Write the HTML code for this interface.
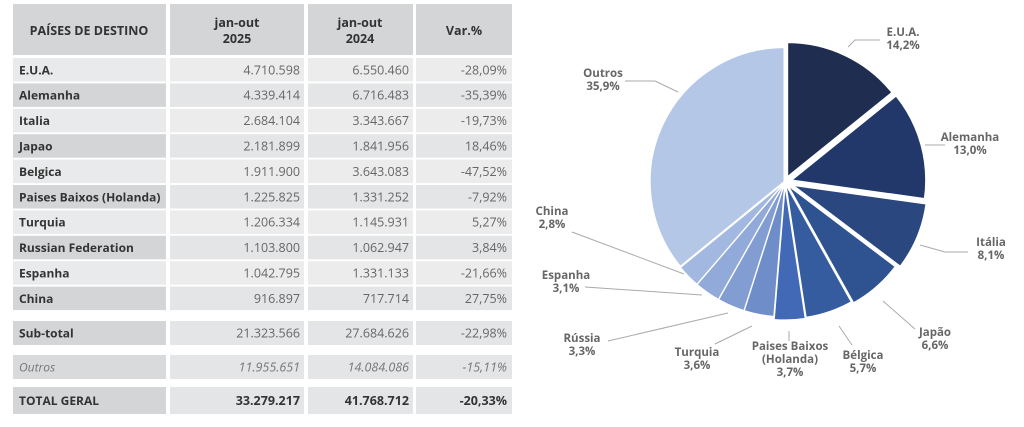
<!DOCTYPE html>
<html><head><meta charset="utf-8"><style>
html,body{margin:0;padding:0;background:#fff;width:1024px;height:427px;overflow:hidden}
svg{display:block;font-family:"Open Sans","Liberation Sans",sans-serif}
</style></head><body>
<svg id="s" width="1024" height="427" viewBox="0 0 1024 427" xmlns="http://www.w3.org/2000/svg">
<g id="tbl"></g><g id="pie"></g>
</svg>
<script>
const NS="http://www.w3.org/2000/svg";
function el(p,t,a,txt){const e=document.createElementNS(NS,t);for(const k in a)e.setAttribute(k,a[k]);if(txt!==undefined)e.textContent=txt;p.appendChild(e);return e;}
const T=document.getElementById('tbl');
const cols=[[13,166],[170,304],[308,413],[416,512]];
cols.forEach(c=>el(T,'rect',{x:c[0],y:4,width:c[1]-c[0],height:51,fill:'#d4d5d6'}));
el(T,'text',{x:89,y:35,'text-anchor':'middle','font-size':12.5,'font-weight':'bold',fill:'#333'},'PAÍSES DE DESTINO');
[[237,'2025'],[360,'2024']].forEach(a=>{el(T,'text',{x:a[0],y:27,'text-anchor':'middle','font-size':12.5,'font-weight':'bold',fill:'#333'},'jan-out');el(T,'text',{x:a[0],y:43,'text-anchor':'middle','font-size':12.5,'font-weight':'bold',fill:'#333'},a[1]);});
el(T,'text',{x:464,y:35,'text-anchor':'middle','font-size':12.5,'font-weight':'bold',fill:'#333'},'Var.%');
const rows=[['E.U.A.','4.710.598','6.550.460','-28,09%'],['Alemanha','4.339.414','6.716.483','-35,39%'],['Italia','2.684.104','3.343.667','-19,73%'],['Japao','2.181.899','1.841.956','18,46%'],['Belgica','1.911.900','3.643.083','-47,52%'],['Paises Baixos (Holanda)','1.225.825','1.331.252','-7,92%'],['Turquia','1.206.334','1.145.931','5,27%'],['Russian Federation','1.103.800','1.062.947','3,84%'],['Espanha','1.042.795','1.331.133','-21,66%'],['China','916.897','717.714','27,75%']];
function row(y,h,d,lab,numFill,opt){
 cols.forEach((c,i)=>el(T,'rect',{x:c[0],y:y,width:c[1]-c[0],height:h,fill:i==0?lab:numFill}));
 const ty=y+h/2+4.5;
 const st={fill:opt.col||'#333'};if(opt.it)st['font-style']='italic';
 el(T,'text',Object.assign({x:19,y:ty,'font-size':12,'font-weight':opt.bl0?'bold':'normal'},st),d[0]);
 [[300,1],[409,2],[507,3]].forEach(a=>el(T,'text',Object.assign({x:a[0],y:ty,'font-size':12.5,'text-anchor':'end','font-weight':opt.bold?'bold':'normal'},st,opt.bold?{}:{fill:opt.col||'#666'}),d[a[1]]));
}
rows.forEach((r,i)=>row(58+i*25.4,23.5,r,i%2?'#d4d5d6':'#e9eaeb',i%2?'#e4e5e6':'#ececed',{bl0:true}));
row(321,24,['Sub-total','21.323.566','27.684.626','-22,98%'],'#d4d5d6','#e4e5e6',{bl0:true});
row(355,24,['Outros','11.955.651','14.084.086','-15,11%'],'#d9dadb','#e4e5e6',{it:true,col:'#777'});
row(387,27,['TOTAL GERAL','33.279.217','41.768.712','-20,33%'],'#d4d5d6','#e4e5e6',{bold:true,bl0:true});
const P=document.getElementById('pie');
const cx=785,cy=182,R=134;
const sl=[[14.2,'#1e2d50',6],[13.0,'#22386a',7],[8.1,'#2a477f',9],[6.6,'#2f5290',5],[5.7,'#355c9f',3],[3.7,'#4169b5',4],[3.6,'#6f8ec9',1],[3.3,'#819dd2',1],[3.1,'#91aad9',1],[2.8,'#a2b8e0',1],[35.9,'#b4c7e7',1]];
let tot=sl.reduce((a,b)=>a+b[0],0),a0=0;
sl.forEach(s=>{const a1=a0+s[0]/tot*2*Math.PI,m=(a0+a1)/2;
 const ox=cx+s[2]*Math.sin(m),oy=cy-s[2]*Math.cos(m);
 const x0=ox+R*Math.sin(a0),y0=oy-R*Math.cos(a0),x1=ox+R*Math.sin(a1),y1=oy-R*Math.cos(a1);
 el(P,'path',{d:`M${ox},${oy}L${x0},${y0}A${R},${R} 0 ${a1-a0>Math.PI?1:0} 1 ${x1},${y1}Z`,fill:s[1],stroke:'#fff','stroke-width':1.2});a0=a1;});
const L=[['E.U.A.','14,2%',903,36,'M848,47 L855,40 L880,40'],['Alemanha','13,0%',970,141,'M925,145 L945,145'],['Itália','8,1%',991,246,'M920,245 L945,252 L968,252'],['Japão','6,6%',935,336,'M883,301 L915,329'],['Bélgica','5,7%',863,359,'M839,326 L852,345'],['Paises Baixos','(Holanda)','3,7%',790,350,'M789,331 L789,341'],['Turquia','3,6%',697,356,'M752,326 L715,344'],['Rússia','3,3%',582,342,'M728,313 L608,341'],['Espanha','3,1%',566,279,'M702,295 L585,287'],['China','2,8%',552,215,'M684,274 L572,232'],['Outros','35,9%',603,77,'M678,92 L655,81 L625,81']];
L.forEach(l=>{const path=l[l.length-1];el(P,'path',{d:path,fill:'none',stroke:'#aaa','stroke-width':1});
 const lines=l.slice(0,l.length-3);const x=l[l.length-3],y=l[l.length-2];
 lines.forEach((t,i)=>el(P,'text',{x:x,y:y+i*13,'text-anchor':'middle','font-size':11.5,fill:'#666','font-weight':'bold'},t));});
</script>
</body></html>
